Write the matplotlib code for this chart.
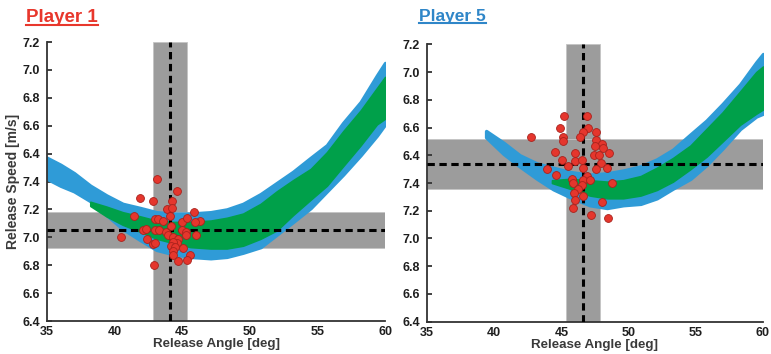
import matplotlib
matplotlib.use("Agg")
import matplotlib.pyplot as plt
from matplotlib.lines import Line2D

plt.rcParams['font.family'] = ['Liberation Sans', 'DejaVu Sans']

# ---------------- data ----------------
ytick_pos = [6.4, 6.6, 6.8, 7.0, 7.2, 7.4, 7.6, 7.8, 8.0, 8.2, 8.4]
ytick_labels = ['6.4', '6.6', '6.8', '7.0', '7.2', '7.4', '6.4', '6.6', '6.8', '7.0', '7.2']
xtick_pos = [35, 40, 45, 50, 55, 60]

# Player 1 feasible region (blue) and high-accuracy region (green)
p1_blue_x = [35.0, 36.0, 37.0, 38.2, 39.4, 40.6, 41.9, 43.1, 44.3, 45.6, 47.1, 48.3,
             49.5, 50.8, 52.0, 53.2, 54.5, 55.7, 56.9, 58.2, 59.4, 60.0]
p1_blue_top = [7.57, 7.52, 7.46, 7.37, 7.30, 7.24, 7.21, 7.18, 7.17, 7.17, 7.18, 7.20,
               7.24, 7.31, 7.39, 7.47, 7.57, 7.66, 7.82, 7.97, 8.16, 8.25]
p1_blue_bot = [7.42, 7.37, 7.33, 7.26, 7.16, 7.06, 6.98, 6.91, 6.88, 6.86, 6.85, 6.86,
               6.89, 6.93, 7.02, 7.11, 7.21, 7.33, 7.45, 7.59, 7.73, 7.81]
p1_green_x = [38.2, 39.4, 40.6, 41.9, 43.1, 44.3, 45.6, 47.1, 48.3, 49.5, 50.8, 52.0,
              53.2, 54.5, 55.7, 56.9, 58.2, 59.4, 60.0]
p1_green_top = [7.255, 7.22, 7.18, 7.15, 7.12, 7.11, 7.11, 7.12, 7.14, 7.17, 7.24, 7.33,
                7.41, 7.49, 7.61, 7.76, 7.91, 8.07, 8.15]
p1_green_bot = [7.225, 7.15, 7.09, 7.04, 6.99, 6.96, 6.93, 6.92, 6.92, 6.94, 6.99, 7.05,
                7.16, 7.27, 7.37, 7.51, 7.66, 7.81, 7.85]

# Player 1 release trials
p1_angle = [43.16, 44.59, 41.88, 42.86, 44.27, 43.85, 44.27, 45.87, 41.46, 42.99, 43.20,
            43.55, 44.10, 44.96, 45.38, 46.32, 45.95, 42.12, 42.32, 42.99, 43.28, 43.80,
            44.15, 44.96, 45.28, 45.26, 46.00, 40.47, 42.37, 43.97, 44.29, 44.71, 44.59,
            44.34, 44.15, 44.46, 45.08, 42.81, 42.99, 44.34, 45.58, 44.34, 45.33, 44.71,
            42.89]
p1_speed = [7.42, 7.33, 7.28, 7.26, 7.26, 7.20, 7.21, 7.18, 7.15, 7.13, 7.13,
            7.12, 7.15, 7.11, 7.14, 7.12, 7.11, 7.05, 7.06, 7.05, 7.05, 7.04,
            7.08, 7.05, 7.04, 7.02, 7.02, 7.00, 6.99, 7.02, 7.00, 6.99, 6.96,
            6.97, 6.94, 6.93, 6.92, 6.95, 6.96, 6.90, 6.87, 6.87, 6.84, 6.83,
            6.80]
p1_angle_mean, p1_angle_lo, p1_angle_hi = 44.1, 42.86, 45.38
p1_speed_mean, p1_speed_lo, p1_speed_hi = 7.05, 6.92, 7.18

# Player 5
p5_blue_x = [39.4, 40.7, 41.9, 43.2, 44.4, 45.6, 47.1, 48.4, 49.6, 50.9, 52.1, 53.3,
             54.6, 55.8, 57.0, 58.3, 59.5, 60.0]
p5_blue_top = [7.775, 7.69, 7.60, 7.54, 7.51, 7.48, 7.46, 7.47, 7.49, 7.52, 7.57, 7.64,
               7.75, 7.85, 7.97, 8.11, 8.27, 8.33]
p5_blue_bot = [7.73, 7.61, 7.52, 7.43, 7.355, 7.30, 7.24, 7.22, 7.24, 7.25, 7.29, 7.36,
               7.43, 7.53, 7.65, 7.79, 7.88, 7.90]
p5_green_x = [44.3, 45.6, 47.1, 48.4, 49.6, 50.9, 52.1, 53.3, 54.6, 55.8, 57.0, 58.3,
              59.5, 60.0]
p5_green_top = [7.42, 7.43, 7.42, 7.41, 7.42, 7.45, 7.51, 7.58, 7.67, 7.79, 7.91, 8.06,
                8.20, 8.24]
p5_green_bot = [7.40, 7.36, 7.31, 7.29, 7.29, 7.31, 7.35, 7.41, 7.50, 7.59, 7.70, 7.82,
                7.90, 7.93]

p5_angle = [45.22, 46.88, 44.90, 47.00, 46.63, 47.57, 42.74, 45.14, 45.14, 46.38, 47.57,
            48.00, 47.50, 48.12, 44.52, 46.01, 48.57, 47.43, 47.82, 45.02, 46.01, 46.51,
            47.93, 43.95, 45.51, 46.63, 47.57, 48.42, 44.60, 45.77, 46.88, 46.63, 47.13,
            48.74, 45.84, 46.51, 46.26, 45.94, 46.58, 46.01, 48.00, 45.84, 47.20, 48.44]
p5_speed = [7.88, 7.88, 7.80, 7.80, 7.77, 7.77, 7.73, 7.73, 7.705, 7.73, 7.71,
            7.68, 7.67, 7.65, 7.625, 7.62, 7.62, 7.60, 7.60, 7.565, 7.56, 7.565,
            7.545, 7.50, 7.52, 7.51, 7.50, 7.505, 7.46, 7.43, 7.45, 7.42, 7.42,
            7.40, 7.40, 7.385, 7.36, 7.33, 7.31, 7.28, 7.265, 7.22, 7.17, 7.15]
p5_angle_mean, p5_angle_lo, p5_angle_hi = 46.58, 45.32, 47.87
p5_speed_mean, p5_speed_lo, p5_speed_hi = 7.54, 7.357, 7.72

BLUE = '#2f9bd7'
GREEN = '#00a04a'
GRAY = '#9c9c9c'
RED = '#e5362d'
AXIS = '#333333'

fig = plt.figure(figsize=(7.71, 3.54), dpi=100)
ax1 = fig.add_axes([0.0610, 0.0932, 0.4384, 0.788])
ax2 = fig.add_axes([0.5538, 0.0912, 0.4358, 0.7836])


def draw_panel(ax, bx, btop, bbot, gx, gtop, gbot, ang, spd,
               amean, alo, ahi, smean, slo, shi):
    ax.set_xlim(35, 60)
    ax.set_ylim(6.4, 8.4)
    # mean +/- SD bands
    ax.axvspan(alo, ahi, color=GRAY, ec='#c4c4c4', lw=0.6, zorder=1)
    ax.axhspan(slo, shi, color=GRAY, ec='#c4c4c4', lw=0.6, zorder=1)
    # solution regions
    ax.fill_between(bx, bbot, btop, color=BLUE, lw=2.5, ec=BLUE, zorder=2)
    ax.fill_between(gx, gbot, gtop, color=GREEN, lw=1.2, ec=GREEN, zorder=3)
    # mean lines
    ax.axvline(amean, color='black', lw=2.2, dashes=(2.4, 1.5), zorder=4)
    ax.axhline(smean, color='black', lw=2.2, dashes=(2.4, 1.5), zorder=4)
    # trials
    ax.scatter(ang, spd, s=32, color=RED, edgecolors='#a8221c', linewidths=0.6,
               zorder=5)

    for side in ('top', 'right'):
        ax.spines[side].set_visible(False)
    for side in ('left', 'bottom'):
        ax.spines[side].set_color(AXIS)
        ax.spines[side].set_linewidth(1.3)
    ax.set_yticks(ytick_pos)
    ax.set_yticklabels(ytick_labels)
    ax.set_xticks(xtick_pos)
    ax.tick_params(axis='y', direction='in', length=3.5, width=1.3, color=AXIS,
                   pad=5, labelsize=9, labelcolor='#1e1e1e')
    ax.tick_params(axis='x', direction='in', length=0, pad=3.5, labelsize=9,
                   labelcolor='#1e1e1e')
    for lab in ax.get_xticklabels() + ax.get_yticklabels():
        lab.set_fontweight('bold')
    ax.set_xlabel('Release Angle [deg]', fontsize=9.6, fontweight='bold',
                  color='#3a3a3a', labelpad=0)


draw_panel(ax1, p1_blue_x, p1_blue_top, p1_blue_bot, p1_green_x, p1_green_top,
           p1_green_bot, p1_angle, p1_speed, p1_angle_mean, p1_angle_lo,
           p1_angle_hi, p1_speed_mean, p1_speed_lo, p1_speed_hi)
draw_panel(ax2, p5_blue_x, p5_blue_top, p5_blue_bot, p5_green_x, p5_green_top,
           p5_green_bot, p5_angle, p5_speed, p5_angle_mean, p5_angle_lo,
           p5_angle_hi, p5_speed_mean, p5_speed_lo, p5_speed_hi)
ax1.set_ylabel('Release Speed [m/s]', fontsize=10, fontweight='bold',
               color='#3a3a3a', labelpad=2)

# panel titles with underline
t1 = fig.text(26 / 771, 1 - 22 / 354, 'Player 1', fontsize=13.5, fontweight='bold',
              color='#e8372c', ha='left', va='baseline')
t2 = fig.text(419 / 771, 1 - 21 / 354, 'Player 5', fontsize=12.5, fontweight='bold',
              color='#2f86c8', ha='left', va='baseline')

fig.canvas.draw()
renderer = fig.canvas.get_renderer()
for t, col in ((t1, '#e8372c'), (t2, '#2f86c8')):
    bb = t.get_window_extent(renderer)
    inv = fig.transFigure.inverted()
    (x0, _), (x1, _) = inv.transform([(bb.x0, 0), (bb.x1, 0)])
    _, yb = inv.transform((0, bb.y0 + 1.0))
    fig.add_artist(Line2D([x0, x1], [yb, yb], color=col, lw=1.5,
                          transform=fig.transFigure))

fig.savefig('out.png', dpi=100)
